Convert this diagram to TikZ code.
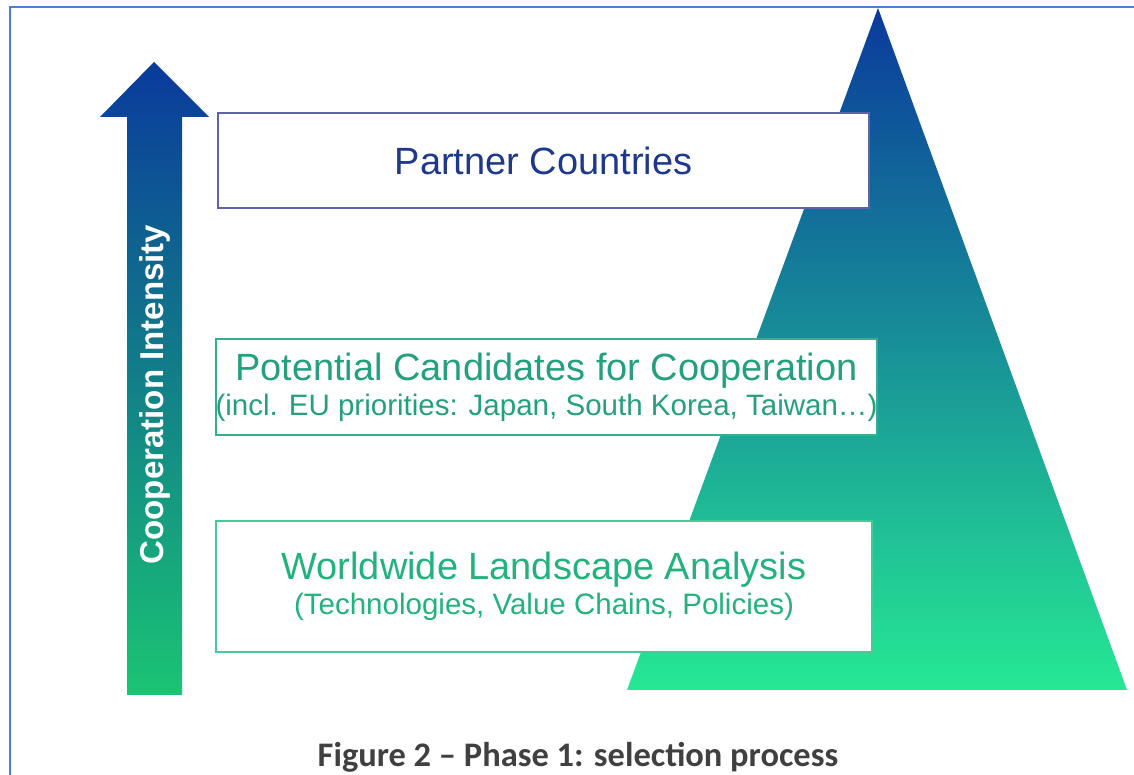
\documentclass[tikz,border=0pt]{standalone}
\usepackage{fontspec}
\setmainfont{Liberation Sans}
\newfontfamily\captionfont{Carlito}
\definecolor{deepblue}{RGB}{10,58,156}
\definecolor{springgreen}{RGB}{38,232,148}
\definecolor{arrowgreen}{RGB}{26,196,116}
\definecolor{frameblue}{RGB}{74,128,208}
\definecolor{partnerline}{RGB}{96,98,170}
\definecolor{partnertext}{RGB}{30,56,140}
\definecolor{candline}{RGB}{60,172,142}
\definecolor{candtext}{RGB}{36,160,128}
\definecolor{landline}{RGB}{72,202,150}
\definecolor{landtext}{RGB}{34,178,124}
\definecolor{captiongray}{RGB}{64,64,64}
\usepackage{tikz}

\begin{document}
\begin{tikzpicture}[
    stage/.style={draw, fill=white, line width=1.4pt, align=center,
      inner sep=0pt, font=\fontsize{27}{29}\selectfont},
  ]
  \useasboundingbox (0,0) rectangle (28.35,19.375);
  % page frame
  \draw[frameblue, line width=1pt] (0.25,0) -- (0.25,19.2) -- (28.35,19.2);
  % pyramid
  \shade[top color=deepblue, bottom color=springgreen]
    (21.95,19.175) -- (28.175,2.125) -- (15.675,2.125) -- cycle;
  % intensity arrow
  \shade[top color=deepblue, bottom color=arrowgreen]
    (3.175,2.0) -- (3.175,16.45) -- (2.5,16.45) -- (3.85,17.825)
    -- (5.225,16.45) -- (4.55,16.45) -- (4.55,2.0) -- cycle;
  \node[rotate=90, text=white, font=\bfseries\fontsize{23.5}{26}\selectfont]
    (intensity) at (3.875,9.5125) {Cooperation Intensity};

  \node[stage, draw=partnerline, text=partnertext,
    minimum width=16.275cm, minimum height=2.375cm]
    (partners) at (13.5875,15.3625) {Partner Countries};
  \node[stage, draw=candline, text=candtext,
    minimum width=16.525cm, minimum height=2.4cm]
    (candidates) at (13.6625,9.7)
    {Potential Candidates for Cooperation\\[-4pt]
     {\fontsize{21}{29}\selectfont (incl. EU priorities: Japan, South Korea, Taiwan\dots)}};
  \node[stage, draw=landline, text=landtext,
    minimum width=16.4cm, minimum height=3.275cm]
    (landscape) at (13.6,4.7125)
    {Worldwide Landscape Analysis\\[-4pt]
     {\fontsize{21}{29}\selectfont (Technologies, Value Chains, Policies)}};

  \node[text=captiongray, font=\captionfont\bfseries\fontsize{24.5}{28}\selectfont]
    (caption) at (14.45,0.45) {Figure 2 – Phase 1: selection process};
\end{tikzpicture}
\end{document}
